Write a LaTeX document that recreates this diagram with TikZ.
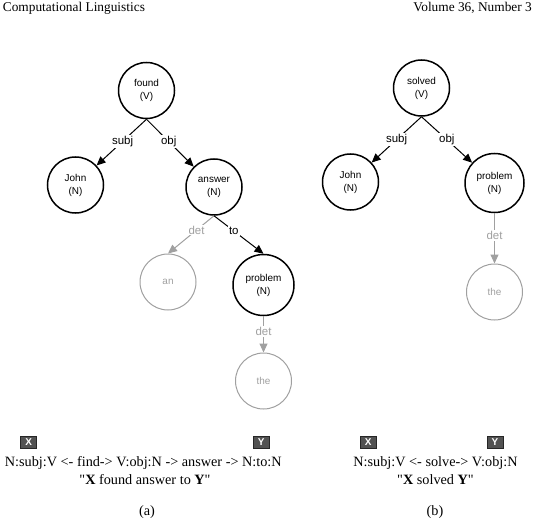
\documentclass[tikz,border=0pt]{standalone}
\usepackage{fontspec}
\newfontfamily\serifz{Liberation Serif}
\newfontfamily\sansz{Liberation Sans}
\usetikzlibrary{arrows.meta}
\definecolor{lg}{HTML}{A0A0A0}
\definecolor{boxg}{HTML}{525252}
\tikzset{
 base/.style={circle, inner sep=0pt, minimum size=56bp, align=center, font=\sansz\fontsize{10}{13}\selectfont},
 blk/.style={base, draw=black, line width=1.5bp},
 gry/.style={base, draw=lg, line width=1bp, text=lg},
 edge/.style={draw=black, line width=1bp, -{Triangle[length=9bp,width=8bp]}},
 gedge/.style={draw=lg, line width=1bp, -{Triangle[length=9bp,width=8bp]}},
 lab/.style={fill=white, inner sep=1bp, font=\sansz\fontsize{11.5}{13}\selectfont},
 glab/.style={lab, text=lg},
 varbox/.style={fill=boxg, draw=black!85, line width=0.6bp, minimum width=16bp, minimum height=12bp, inner sep=0pt, text=white, font=\sansz\bfseries\fontsize{10}{11}\selectfont},
 txt/.style={font=\serifz\fontsize{14.3}{16}\selectfont, anchor=base, inner sep=0pt},
 hdr/.style={font=\serifz\fontsize{13.4}{15}\selectfont, inner sep=0pt},
}
\begin{document}
\begin{tikzpicture}[x=1bp,y=-1bp]
\useasboundingbox (0,0) rectangle (536,520);
% header
\node[hdr, anchor=base west] (h1) at (2.7,11.3) {Computational Linguistics};
\node[hdr, anchor=base east] (h2) at (532,11.3) {Volume 36, Number 3};
% tree (a)
\node[blk] (found) at (146.5,90.5) {found\\(V)};
\node[blk] (john1) at (75.5,185) {John\\(N)};
\node[blk] (answer) at (214,187) {answer\\(N)};
\node[gry] (an) at (168,282) {an};
\node[blk, minimum size=61bp] (prob1) at (263.5,285) {problem\\(N)};
\node[gry] (the1) at (263.5,381) {the};
\draw[edge] (found.south) -- node[lab,pos=0.48]{subj} (john1);
\draw[edge] (found.south) -- node[lab,pos=0.47]{obj} (answer);
\draw[gedge] (answer.south) -- node[glab,pos=0.38]{det} (an.north);
\draw[edge] (answer.south) -- node[lab,pos=0.4]{to} (prob1.north);
\draw[gedge] (prob1.south) -- node[glab,pos=0.42]{det} (the1.north);
% tree (b)
\node[blk] (solved) at (421.5,88) {solved\\(V)};
\node[blk] (john2) at (350.5,182) {John\\(N)};
\node[blk, minimum size=59bp] (prob2) at (494.5,183) {problem\\(N)};
\node[gry] (the2) at (494.5,292) {the};
\draw[edge] (solved.south) -- node[lab,pos=0.5]{subj} (john2);
\draw[edge] (solved.south) -- node[lab,pos=0.5]{obj} (prob2);
\draw[gedge] (prob2.south) -- node[glab,pos=0.44]{det} (the2.north);
% patterns
\node[varbox] (xa) at (28.7,442.5) {X};
\node[varbox] (ya) at (261.3,442.5) {Y};
\node[varbox] (xb) at (368.3,442.5) {X};
\node[varbox] (yb) at (495,442.5) {Y};
\node[txt] (pa) at (143.3,466.5) {N:subj:V <- find-> V:obj:N -> answer -> N:to:N};
\node[txt] (qa) at (145,484.5) {"\textbf{X} found answer to \textbf{Y}"};
\node[txt] (ca) at (147,515) {(a)};
\node[txt] (pb) at (435.5,466.5) {N:subj:V <- solve-> V:obj:N};
\node[txt] (qb) at (435.5,484.5) {"\textbf{X} solved \textbf{Y}"};
\node[txt] (cb) at (435,515) {(b)};
\end{tikzpicture}
\end{document}
